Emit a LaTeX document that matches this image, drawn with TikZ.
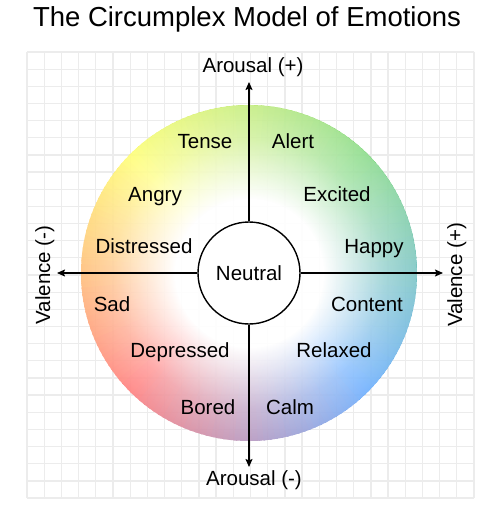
\documentclass[tikz,border=0pt]{standalone}
\usepackage{fontspec}
\setmainfont{Liberation Sans}
\usetikzlibrary{arrows.meta,fadings}
\definecolor{cY}{RGB}{255,255,60}
\definecolor{cG}{RGB}{90,205,90}
\definecolor{cB}{RGB}{45,140,255}
\definecolor{cR}{RGB}{255,70,70}
\definecolor{gridc}{RGB}{236,236,236}
\pgfdeclareradialshading{wfadeshade}{\pgfpointorigin}{color(0bp)=(white); color(11bp)=(white); color(20bp)=(white!50!black); color(30bp)=(white!15!black); color(38bp)=(black); color(50bp)=(black)}
\pgfdeclarefading{wfade}{\pgfuseshading{wfadeshade}}
\tikzset{
  gridline/.style={gridc, line width=1.3pt},
  axis/.style={line width=1.4pt, -{Stealth[length=8pt,width=7pt,inset=1.5pt]}},
  lbl/.style={font=\fontsize{20.5}{24}\selectfont, anchor=base, inner sep=0pt},
  axlbl/.style={font=\fontsize{20.5}{24}\selectfont, anchor=base, inner sep=0pt},
}
\begin{document}
\begin{tikzpicture}[x=1pt,y=-1pt]
\useasboundingbox (0,0) rectangle (500,516);
\fill[white] (0,0) rectangle (500,516);
% grid
\foreach \k in {0,...,26}{
  \draw[gridline] ({27+\k*17.1923},52) -- ({27+\k*17.1923},498);
  \draw[gridline] (27,{52+\k*17.1538}) -- (474,{52+\k*17.1538});
}
% coloured disc
\begin{scope}[transparency group, opacity=0.92]
\begin{scope}[shift={(249,273)}, yscale=-1]
\foreach \s/\ca/\cb in {-135/cR/cB, -45/cB/cG, 45/cG/cY, 135/cY/cR}{
  \foreach \i in {0,...,44}{
    \pgfmathtruncatemacro\p{round((2*\i+1)*100/90)}
    \pgfmathsetmacro\a{\s+2*\i}
    \fill[\cb!\p!\ca] (0,0) -- (\a:168) arc[start angle=\a, end angle=\a+2.8, radius=168] -- cycle;
  }
}
\fill[white, path fading=wfade, fit fading=true] (0,0) circle[radius=168];
\end{scope}
\end{scope}
% title
\node[font=\fontsize{27.5}{32}\selectfont, anchor=base, inner sep=0pt] (title) at (247,27) {The Circumplex Model of Emotions};
% centre
\node[circle, draw, fill=white, line width=1.4pt, minimum size=102pt, inner sep=0pt, font=\fontsize{20.5}{24}\selectfont] (neutral) at (249,273) {Neutral};
\coordinate (ntop) at (249,82);
\coordinate (nbot) at (249,467);
\coordinate (nleft) at (57,273);
\coordinate (nright) at (443,273);
\draw[axis] (neutral.north) -- (ntop);
\draw[axis] (neutral.south) -- (nbot);
\draw[axis] (neutral.west) -- (nleft);
\draw[axis] (neutral.east) -- (nright);
% axis labels
\node[axlbl] (aplus) at (253,73) {Arousal (+)};
\node[axlbl] (aminus) at (254,485) {Arousal (-)};
\node[axlbl, rotate=90] (vminus) at (50,275) {Valence (-)};
\node[axlbl, rotate=90] (vplus) at (462,275) {Valence (+)};
% emotions
\node[lbl] (tense) at (205,148) {Tense};
\node[lbl] (alert) at (293,148) {Alert};
\node[lbl] (angry) at (155,201) {Angry};
\node[lbl] (excited) at (337,201) {Excited};
\node[lbl] (distressed) at (144,253) {Distressed};
\node[lbl] (happy) at (374,253) {Happy};
\node[lbl] (sad) at (112,311) {Sad};
\node[lbl] (content) at (367,311) {Content};
\node[lbl] (depressed) at (180,357) {Depressed};
\node[lbl] (relaxed) at (334,357) {Relaxed};
\node[lbl] (bored) at (208,414) {Bored};
\node[lbl] (calm) at (290,414) {Calm};
\end{tikzpicture}
\end{document}
